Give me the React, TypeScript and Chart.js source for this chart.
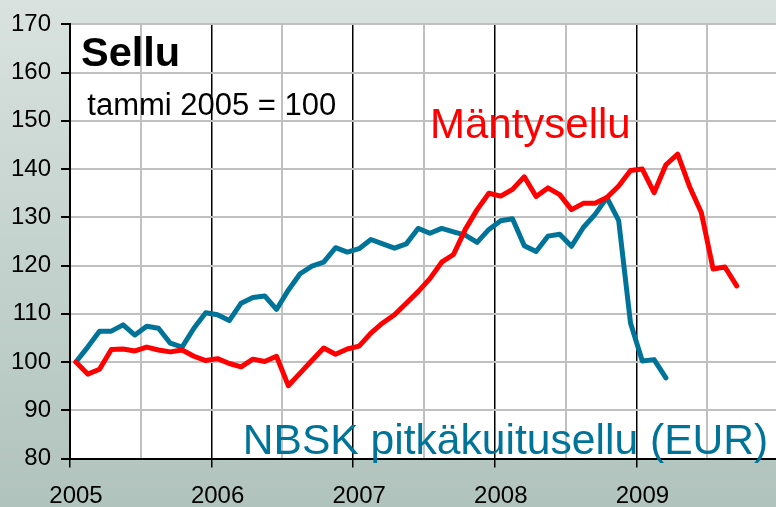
import React, { useEffect, useRef } from "react";
import { Chart, registerables } from "chart.js";

Chart.register(...registerables);

// Monthly index values, first value = January 2005
const START_YEAR = 2005;

const mantysellu = [
  100, 97.5, 98.5, 102.6, 102.7, 102.3, 103.1, 102.5, 102.1, 102.5, 101.2, 100.3,
  100.7, 99.7, 99.0, 100.6, 100.1, 101.2, 95.1, 97.7, 100.3, 102.9, 101.6, 102.7,
  103.3, 106.0, 108.1, 109.8, 112.2, 114.6, 117.3, 120.7, 122.3, 127.5, 131.6, 135.0,
  134.4, 135.8, 138.4, 134.3, 136.1, 134.7, 131.6, 132.9, 132.9, 134.1, 136.5, 139.7,
  140.0, 135.1, 140.9, 143.1, 136.4, 131.0, 119.3, 119.7, 115.8,
];

const nbsk = [
  100, 103.1, 106.4, 106.4, 107.7, 105.6, 107.4, 107.0, 103.9, 103.1, 107.0, 110.2,
  109.8, 108.6, 112.2, 113.4, 113.7, 110.9, 114.9, 118.3, 119.9, 120.7, 123.7, 122.8,
  123.5, 125.4, 124.5, 123.6, 124.5, 127.7, 126.7, 127.7, 127.0, 126.3, 124.8, 127.5,
  129.3, 129.7, 124.1, 122.9, 126.1, 126.5, 124.0, 127.9, 130.6, 134.1, 129.3, 108.1,
  100.2, 100.5, 96.7,
];

const yearLabels = [2005, 2006, 2007, 2008, 2009];
const yMin = 80;
const yMax = 170;
const yStep = 10;

const seriesNames = ["Mäntysellu", "NBSK pitkäkuitusellu (EUR)"];
const titleText = "Sellu";
const subtitleText = "tammi 2005 = 100";

const FONT = "'Liberation Sans', Arial, Helvetica, sans-serif";
const RED = "#ff0000";
const BLUE = "#007399";

function toPoints(values: number[]) {
  return values.map((v, i) => ({ x: START_YEAR + (i + 0.5) / 12, y: v }));
}

const annotations = [
  { text: titleText, x: 2005.078, y: 161.3, font: `bold 41.5px ${FONT}`, color: "#000" },
  { text: subtitleText, x: 2005.122, y: 151.15, font: `31px ${FONT}`, color: "#000" },
  { text: seriesNames[0], x: 2007.542, y: 146.45, font: `42px ${FONT}`, color: RED },
  { text: seriesNames[1], x: 2006.22, y: 80.9, font: `42.6px ${FONT}`, color: BLUE },
];

const bgPlugin = {
  id: "bgPlugin",
  beforeDraw(chart: any) {
    const { ctx, width, height, chartArea } = chart;
    ctx.save();
    const g = ctx.createLinearGradient(0, 0, 0, height);
    g.addColorStop(0, "#d9e2df");
    g.addColorStop(1, "#b0c3bc");
    ctx.fillStyle = g;
    ctx.fillRect(0, 0, width, height);
    ctx.fillStyle = "#ffffff";
    ctx.fillRect(chartArea.left, chartArea.top, chartArea.right - chartArea.left, chartArea.bottom - chartArea.top);
    ctx.restore();
  },
};

const textPlugin = {
  id: "textPlugin",
  afterDatasetsDraw(chart: any) {
    const { ctx, scales } = chart;
    ctx.save();
    ctx.textAlign = "left";
    ctx.textBaseline = "alphabetic";
    for (const a of annotations) {
      ctx.font = a.font;
      ctx.fillStyle = a.color;
      ctx.fillText(a.text, scales.x.getPixelForValue(a.x), scales.y.getPixelForValue(a.y));
    }
    ctx.restore();
  },
};

const isYear = (v: number) => Math.abs(v - Math.round(v)) < 1e-6;

export default function App() {
  const ref = useRef<HTMLCanvasElement>(null);

  useEffect(() => {
    if (!ref.current) return;
    const chart = new Chart(ref.current, {
      type: "line",
      data: {
        datasets: [
          {
            label: seriesNames[0],
            data: toPoints(mantysellu),
            borderColor: RED,
            borderWidth: 5,
            pointRadius: 0,
            tension: 0,
            borderJoinStyle: "round",
            borderCapStyle: "round",
          },
          {
            label: seriesNames[1],
            data: toPoints(nbsk),
            borderColor: BLUE,
            borderWidth: 5,
            pointRadius: 0,
            tension: 0,
            borderJoinStyle: "round",
            borderCapStyle: "round",
          },
        ],
      },
      options: {
        responsive: false,
        animation: false,
        layout: { padding: { top: 21.5, right: 0, left: 0, bottom: 0 } },
        plugins: {
          legend: { display: false },
          tooltip: { enabled: false },
          title: { display: false },
        },
        scales: {
          x: {
            type: "linear",
            min: START_YEAR,
            max: 2010,
            afterFit: (s: any) => {
              s.height = 48.5;
              s.paddingLeft = 0;
              s.paddingRight = 0;
            },
            afterBuildTicks: (s: any) => {
              const t = [];
              for (let v = START_YEAR; v <= 2010 + 1e-9; v += 0.5) t.push({ value: v });
              s.ticks = t;
            },
            ticks: {
              autoSkip: false,
              maxRotation: 0,
              minRotation: 0,
              padding: 14,
              labelOffset: 6,
              color: "#000",
              font: { family: FONT, size: 24 },
              callback: (v: any) => (isYear(v) && yearLabels.includes(Math.round(v)) ? String(Math.round(v)) : ""),
            },
            grid: {
              color: (c: any) => (c.tick && isYear(c.tick.value) ? "#000" : "#c0c0c0"),
              lineWidth: (c: any) => (c.tick && isYear(c.tick.value) ? 1.5 : 2),
              tickColor: (c: any) => (c.tick && isYear(c.tick.value) ? "#000" : "rgba(0,0,0,0)"),
              tickLength: 9,
              drawTicks: true,
            },
            border: { color: "#000", width: 2 },
          },
          y: {
            min: yMin,
            max: yMax,
            afterFit: (s: any) => {
              s.width = 70;
            },
            ticks: {
              stepSize: yStep,
              padding: 10,
              color: "#000",
              font: { family: FONT, size: 24 },
            },
            grid: {
              color: "#c0c0c0",
              lineWidth: 2,
              tickColor: "#000",
              tickLength: 9,
            },
            border: { color: "#000", width: 2 },
          },
        },
      },
      plugins: [bgPlugin, textPlugin],
    } as any);
    return () => chart.destroy();
  }, []);

  return (
    <div style={{ position: "fixed", left: 0, top: 0, width: 778, height: 507, overflow: "hidden" }}>
      <canvas ref={ref} width={778} height={507} style={{ display: "block", width: 778, height: 507 }} />
    </div>
  );
}
